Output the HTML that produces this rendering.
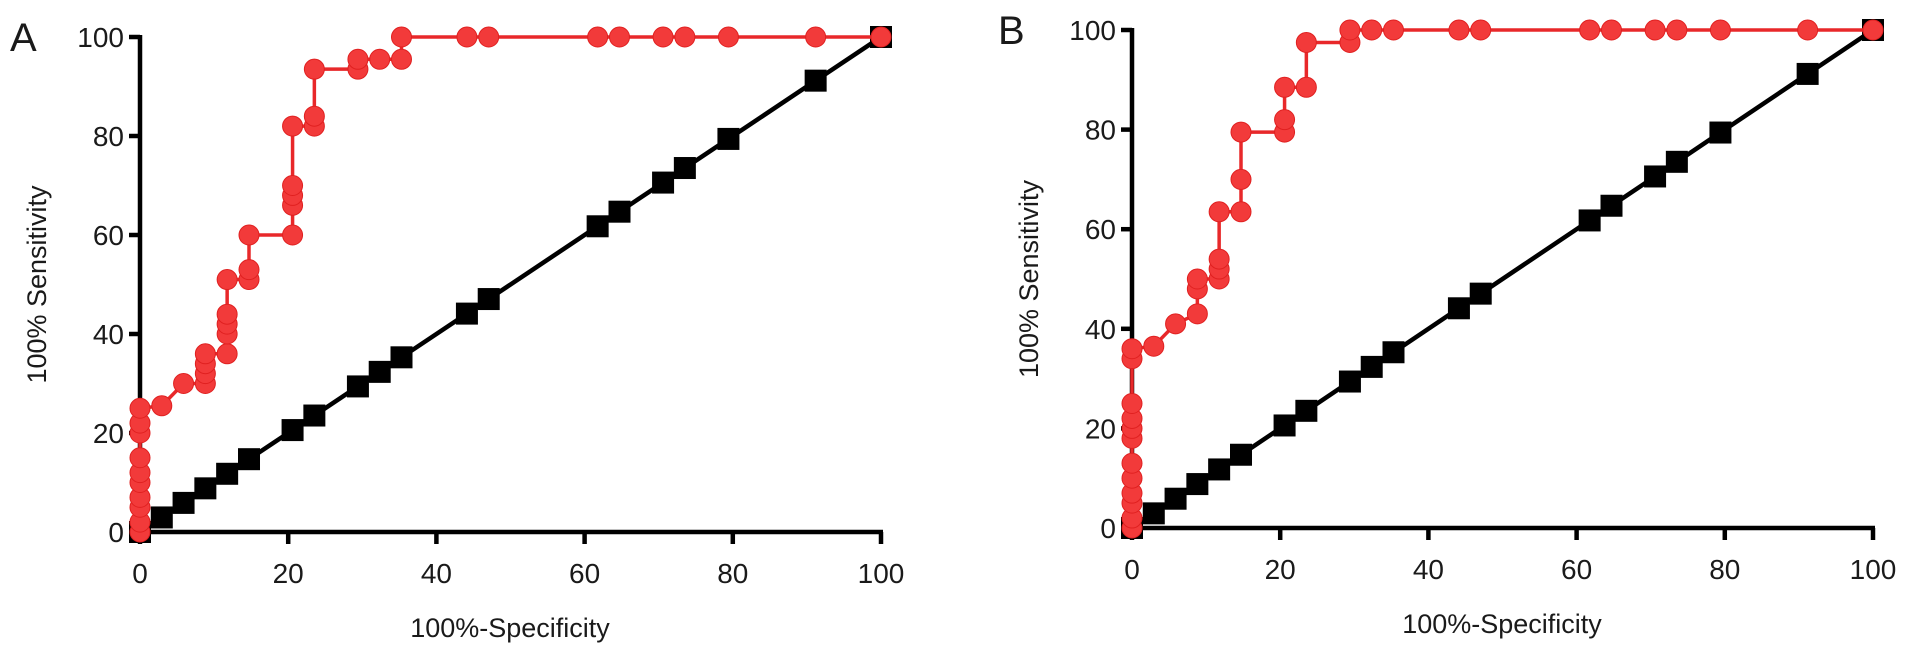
<!DOCTYPE html>
<html><head><meta charset="utf-8"><style>
html,body{margin:0;padding:0;background:#fff;width:1913px;height:655px;overflow:hidden}
svg text{font-family:"Liberation Sans",Arial,sans-serif;fill:#1a1a1a}
</style></head><body>
<svg id="chart" width="1913" height="655" viewBox="0 0 1913 655" xmlns="http://www.w3.org/2000/svg"></svg>
<script>
const ticks=[0,20,40,60,80,100];
const refX=[0,2.94,5.88,8.82,11.76,14.71,20.59,23.53,29.41,32.35,35.29,44.12,47.06,61.76,64.71,70.59,73.53,79.41,91.18,100];
const refY=[0,2.94,5.88,8.82,11.76,14.71,20.59,23.53,29.41,32.35,35.29,44.12,47.06,61.76,64.71,70.59,73.53,79.41,91.18,100];
const rocAX=[0,0,0,0,0,0,0,0,0,0,2.94,5.88,8.82,8.82,8.82,8.82,11.76,11.76,11.76,11.76,11.76,14.71,14.71,14.71,20.59,20.59,20.59,20.59,20.59,23.53,23.53,23.53,29.41,29.41,32.35,35.29,35.29,44.12,47.06,61.76,64.71,70.59,73.53,79.41,91.18,100];
const rocAY=[0,2,5,7,10,12,15,20,22,25,25.5,30,30,32,34,36,36,40,42,44,51,51,53,60,60,66,68,70,82,82,84,93.5,93.5,95.5,95.5,95.5,100,100,100,100,100,100,100,100,100,100];
const rocBX=[0,0,0,0,0,0,0,0,0,0,0,0,2.94,5.88,8.82,8.82,8.82,11.76,11.76,11.76,11.76,14.71,14.71,14.71,20.59,20.59,20.59,23.53,23.53,29.41,29.41,32.35,35.29,44.12,47.06,61.76,64.71,70.59,73.53,79.41,91.18,100];
const rocBY=[0,2,5,7,10,13,18,20,22,25,34,36,36.5,41,43,48,50,50,52,54,63.5,63.5,70,79.5,79.5,82,88.5,88.5,97.5,97.5,100,100,100,100,100,100,100,100,100,100,100,100];
const NS='http://www.w3.org/2000/svg';
const svg=document.getElementById('chart');
function mk(tag,attrs,parent){const e=document.createElementNS(NS,tag);for(const k in attrs)e.setAttribute(k,attrs[k]);(parent||svg).appendChild(e);return e;}
function panel(letter,x0,x1,y0,y1,rx,ry,titleX,letterX,key){
  const g=mk('g',{});
  
  
  const sx=v=>x0+(x1-x0)*v/100, sy=v=>y0+(y1-y0)*v/100;
  const ya=mk('line',{x1:x0,y1:y1-2,x2:x0,y2:y0+2,stroke:'#000','stroke-width':4.5},g);
  
  const xa=mk('line',{x1:x0-2,y1:y0,x2:x1+2,y2:y0,stroke:'#000','stroke-width':4.5},g);
  
  ticks.forEach(t=>{
    mk('line',{x1:x0-11,y1:sy(t),x2:x0,y2:sy(t),stroke:'#000','stroke-width':4.5},g);
    const yl=mk('text',{x:x0-16,y:sy(t)+10,'font-size':28,'text-anchor':'end'},g);yl.textContent=t;
    
    mk('line',{x1:sx(t),y1:y0,x2:sx(t),y2:y0+12,stroke:'#000','stroke-width':4.5},g);
    const xl=mk('text',{x:sx(t),y:y0+51,'font-size':28,'text-anchor':'middle'},g);xl.textContent=t;
    
  });
  const xt=mk('text',{x:titleX,y:y0+105,'font-size':27,'text-anchor':'middle'},g);xt.textContent='100%-Specificity';
  
  const yt=mk('text',{x:0,y:0,'font-size':27,'text-anchor':'middle',transform:`translate(${x0-94},${(y0+y1)/2}) rotate(-90)`},g);yt.textContent='100% Sensitivity';
  
  const lt=mk('text',{x:letterX,y:y1+14,'font-size':40},g);lt.textContent=letter;
  
  let d='';refX.forEach((v,i)=>{d+=(i?'L':'M')+sx(v)+' '+sy(refY[i]);});
  const rl=mk('path',{d:d,stroke:'#000','stroke-width':4.5,fill:'none'},g);
  
  refX.forEach((v,i)=>{
    const s=mk('rect',{x:sx(v)-11,y:sy(refY[i])-11,width:22,height:22,fill:'#000'},g);
    
  });
  d='';rx.forEach((v,i)=>{d+=(i?'L':'M')+sx(v)+' '+sy(ry[i]);});
  const rc=mk('path',{d:d,stroke:'#e8282a','stroke-width':3.5,fill:'none'},g);
  
  rx.forEach((v,i)=>{
    const c=mk('circle',{cx:sx(v),cy:sy(ry[i]),r:10,fill:'#f23a3a',stroke:'#e02020','stroke-width':1},g);
    
  });
}
panel('A',140,881,532,37,rocAX,rocAY,510,10,'a');
panel('B',1132,1873,528,30,rocBX,rocBY,1502,998,'b');
</script>
</body></html>
